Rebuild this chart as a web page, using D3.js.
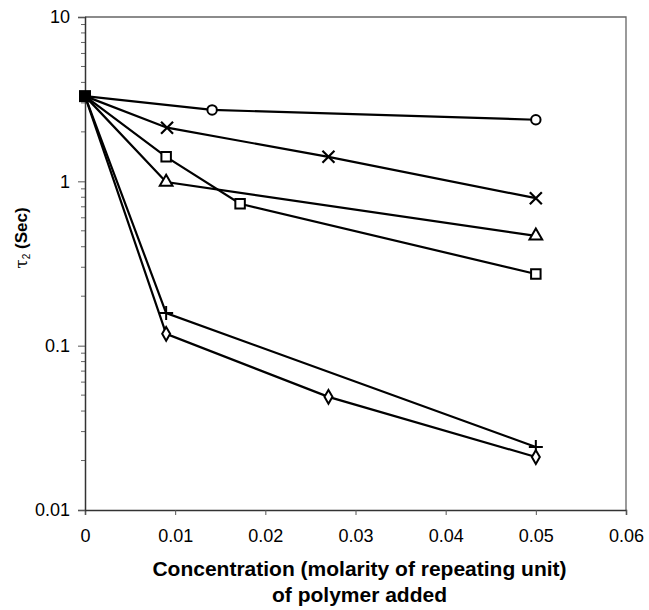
<!DOCTYPE html>
<html>
<head>
<meta charset="utf-8">
<script src="https://cdn.jsdelivr.net/npm/d3@7"></script>
<style>
  body { margin: 0; background: #fff; }
  text { font-family: "Liberation Sans", Arial, sans-serif; }
</style>
</head>
<body>
<div id="chart"></div>
<script>
// Datos
const xTicks = [0, 0.01, 0.02, 0.03, 0.04, 0.05, 0.06];
const yTicks = [0.01, 0.1, 1, 10];
const yTickLabels = ["0.01", "0.1", "1", "10"];

const circleX = [0, 0.0141, 0.05];
const circleY = [3.3, 2.72, 2.37];
const crossX = [0, 0.0091, 0.027, 0.05];
const crossY = [3.3, 2.12, 1.41, 0.79];
const squareX = [0, 0.009, 0.0172, 0.05];
const squareY = [3.3, 1.41, 0.73, 0.273];
const triangleX = [0, 0.009, 0.05];
const triangleY = [3.3, 0.99, 0.466];
const plusX = [0, 0.009, 0.05];
const plusY = [3.3, 0.158, 0.0242];
const diamondX = [0, 0.009, 0.027, 0.05];
const diamondY = [3.3, 0.118, 0.0488, 0.021];

const series = [
    { name: "circle", xs: circleX, ys: circleY, symbol: d3.symbolCircle, size: 70 },
    { name: "cross", xs: crossX, ys: crossY, symbol: "x", size: 0 },
    { name: "square", xs: squareX, ys: squareY, symbol: d3.symbolSquare, size: 90 },
    { name: "triangle", xs: triangleX, ys: triangleY, symbol: d3.symbolTriangle, size: 70 },
    { name: "plus", xs: plusX, ys: plusY, symbol: "+", size: 0 },
    { name: "diamond", xs: diamondX, ys: diamondY, symbol: d3.symbolDiamond, size: 55 }
];

// Configuración
const svgWidth = 649, svgHeight = 610;
const margin = { top: 17, right: 23, bottom: 100, left: 85 };
const width = svgWidth - margin.left - margin.right;
const height = 510 - margin.top;

const svg = d3.select("#chart")
    .append("svg")
    .attr("width", svgWidth)
    .attr("height", svgHeight)
    .append("g")
    .attr("transform", `translate(${margin.left}, ${margin.top})`);

const x = d3.scaleLinear().domain([0, 0.06]).range([0, width]);
const y = d3.scaleLog().domain([0.01, 10]).range([height, 0]);

// Marco superior y derecho
svg.append("path")
    .attr("d", `M0,0H${width}V${height}`)
    .attr("fill", "none")
    .attr("stroke", "#666")
    .attr("stroke-width", 1.3);

// Eje X
const xAxis = svg.append("g")
    .attr("transform", `translate(0, ${height})`)
    .call(d3.axisBottom(x).tickValues(xTicks).tickFormat(d => d === 0 ? "0" : d3.format(".2f")(d)).tickSize(5).tickPadding(14));
xAxis.select(".domain").attr("stroke", "#333").attr("stroke-width", 1.5);
xAxis.selectAll(".tick line").attr("stroke", "#555");
xAxis.selectAll("text").attr("font-size", 18).attr("fill", "#000")
    .style("font-family", "'Liberation Sans', Arial, sans-serif");

// Eje Y (log) con marcas menores
const minor = [];
for (let e = -2; e < 1; e++) {
    for (let m = 2; m <= 9; m++) minor.push(m * Math.pow(10, e));
}
svg.append("g")
    .selectAll("line")
    .data(minor)
    .enter().append("line")
    .attr("x1", -4).attr("x2", 0)
    .attr("y1", d => y(d)).attr("y2", d => y(d))
    .attr("stroke", "#666");

const yAxis = svg.append("g")
    .call(d3.axisLeft(y).tickValues(yTicks).tickFormat((d, i) => yTickLabels[i]).tickSize(7).tickPadding(8));
yAxis.select(".domain").attr("stroke", "#333").attr("stroke-width", 1.5);
yAxis.selectAll(".tick line").attr("stroke", "#555");
yAxis.selectAll("text").attr("font-size", 18).attr("fill", "#000")
    .style("font-family", "'Liberation Sans', Arial, sans-serif");

// Líneas
const line = d3.line().x(d => x(d[0])).y(d => y(d[1]));
series.forEach(s => {
    const pts = s.xs.map((v, i) => [v, s.ys[i]]);
    svg.append("path")
        .datum(pts)
        .attr("d", line)
        .attr("fill", "none")
        .attr("stroke", "#000")
        .attr("stroke-width", 2.2);
});

// Marcadores (sin el punto inicial común)
series.forEach(s => {
    const pts = s.xs.map((v, i) => [v, s.ys[i]]).slice(1);
    const g = svg.append("g");
    pts.forEach(p => {
        const cx = x(p[0]), cy = y(p[1]);
        if (s.symbol === "x") {
            g.append("path")
                .attr("d", `M${cx - 6},${cy - 6}L${cx + 6},${cy + 6}M${cx - 6},${cy + 6}L${cx + 6},${cy - 6}`)
                .attr("stroke", "#000").attr("stroke-width", 2.2);
        } else if (s.symbol === "+") {
            g.append("path")
                .attr("d", `M${cx - 7},${cy}L${cx + 7},${cy}M${cx},${cy - 7}L${cx},${cy + 7}`)
                .attr("stroke", "#000").attr("stroke-width", 2);
        } else {
            g.append("path")
                .attr("d", d3.symbol().type(s.symbol).size(s.size)())
                .attr("transform", `translate(${cx},${cy})`)
                .attr("fill", "#fff")
                .attr("stroke", "#000")
                .attr("stroke-width", 2);
        }
    });
});

// Punto inicial común
svg.append("rect")
    .attr("x", x(circleX[0]) - 6)
    .attr("y", y(circleY[0]) - 6)
    .attr("width", 12)
    .attr("height", 12)
    .attr("fill", "#000");

// Títulos de ejes
svg.append("text")
    .attr("x", width / 2 + 4)
    .attr("y", 576 - margin.top)
    .attr("text-anchor", "middle")
    .attr("font-size", 21)
    .attr("font-weight", "bold")
    .text("Concentration (molarity of repeating unit)");
svg.append("text")
    .attr("x", width / 2 + 4)
    .attr("y", 602 - margin.top)
    .attr("text-anchor", "middle")
    .attr("font-size", 21)
    .attr("font-weight", "bold")
    .text("of polymer added");

const yl = svg.append("text")
    .attr("transform", `translate(${-58}, ${238 - margin.top}) rotate(-90)`)
    .attr("text-anchor", "middle")
    .attr("font-size", 17)
    .attr("font-weight", "bold");
yl.append("tspan").attr("font-weight", "normal").attr("font-family", "'DejaVu Serif', serif").text("τ");
yl.append("tspan").attr("font-size", 10).attr("font-weight", "normal").attr("dy", 3).text("2");
yl.append("tspan").attr("dy", -3).text(" (Sec)");
</script>
</body>
</html>
